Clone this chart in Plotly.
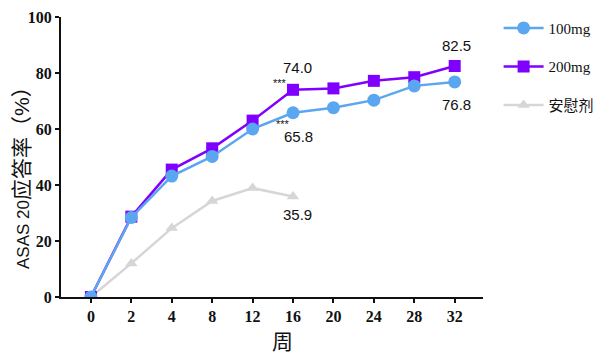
import plotly.graph_objects as go

weeks = ["0", "2", "4", "8", "12", "16", "20", "24", "28", "32"]
dose100 = [0, 28.4, 43.2, 50.2, 60.0, 65.8, 67.6, 70.3, 75.4, 76.8]
dose200 = [0, 28.7, 45.5, 53.1, 63.0, 74.0, 74.5, 77.2, 78.5, 82.5]
placebo_weeks = ["0", "2", "4", "8", "12", "16"]
placebo = [0, 12.0, 24.6, 34.3, 38.9, 35.9]
series_names = ["100mg", "200mg", "安慰剂"]

c100 = "#5ba6f0"
c200 = "#7f00ff"
cpl = "#d6d6d6"

fig = go.Figure()
fig.add_trace(go.Scatter(x=placebo_weeks, y=placebo, name=series_names[2], mode="lines+markers",
                         line=dict(color=cpl, width=2.5),
                         marker=dict(symbol="triangle-up", size=11, color=cpl),
                         legendrank=3, legendgroup="c"))
fig.add_trace(go.Scatter(x=weeks, y=dose200, name=series_names[1], mode="lines+markers",
                         line=dict(color=c200, width=2.5),
                         marker=dict(symbol="square", size=12, color=c200),
                         legendrank=2, legendgroup="b"))
fig.add_trace(go.Scatter(x=weeks, y=dose100, name=series_names[0], mode="lines+markers",
                         line=dict(color=c100, width=2.5),
                         marker=dict(symbol="circle", size=13, color=c100),
                         legendrank=1, legendgroup="a"))

afont = dict(family="Liberation Sans, Arial", size=15, color="#111")
sfont = dict(family="Liberation Sans, Arial", size=11, color="#111")
i16 = weeks.index("16")
i32 = weeks.index("32")
anns = [
    dict(x=i16, y=dose200[i16], text="74.0", xshift=4, yshift=22),
    dict(x=i16, y=dose200[i16], text="***", xshift=-13, yshift=7, font=sfont),
    dict(x=i16, y=dose100[i16], text="65.8", xshift=5, yshift=-24),
    dict(x=i16, y=dose100[i16], text="***", xshift=-10, yshift=-11, font=sfont),
    dict(x=i32, y=dose200[i32], text="82.5", xshift=2, yshift=21),
    dict(x=i32, y=dose100[i32], text="76.8", xshift=2, yshift=-23),
    dict(x=i16, y=placebo[i16], text="35.9", xshift=4, yshift=-18),
]
for a in anns:
    a.setdefault("font", afont)
    fig.add_annotation(xref="x", yref="y", showarrow=False, **a)

# axis titles as annotations (offset like the reference)
fig.add_annotation(xref="paper", yref="paper", x=0.525, y=-0.155, text="周", showarrow=False,
                   xanchor="center", yanchor="middle",
                   font=dict(family="Noto Sans CJK SC", size=21, color="#111"))
fig.add_annotation(xref="paper", yref="paper", x=-0.095, y=0.446,
                   text="ASAS 20<span style='font-size:21px'>应答率（%）</span>",
                   showarrow=False, textangle=-90, xanchor="center", yanchor="middle",
                   font=dict(family="Liberation Sans, Noto Sans CJK SC", size=17, color="#111"))

tickfont = dict(family="Liberation Serif, Times New Roman", size=16, color="#111", weight="bold")
fig.update_layout(
    width=600, height=357,
    margin=dict(l=61, r=117, t=17, b=60, autoexpand=False),
    plot_bgcolor="white", paper_bgcolor="white",
    font=dict(family="Liberation Sans, Noto Sans CJK SC", color="#111"),
    xaxis=dict(type="category", categoryorder="array", categoryarray=weeks,
               range=[-0.74, 9.7], showline=True, linecolor="#111", linewidth=2,
               ticks="outside", ticklen=4, tickcolor="#111", tickwidth=1.5, showgrid=False, zeroline=False,
               tickfont=tickfont),
    yaxis=dict(range=[0, 100], tickvals=[0, 20, 40, 60, 80, 100], showline=True, linecolor="#111",
               linewidth=2, ticks="outside", ticklen=4, tickcolor="#111", tickwidth=1.5,
               showgrid=False, zeroline=False, tickfont=tickfont),
    legend=dict(x=1.037, y=1.019, xanchor="left", yanchor="top", tracegroupgap=16, itemwidth=40,
                font=dict(family="Liberation Serif, Noto Sans CJK SC", size=15, color="#111"),
                bgcolor="rgba(0,0,0,0)"),
)
fig.write_html("out.html", post_script="document.body.style.margin='0';",
               config={"displayModeBar": False})
